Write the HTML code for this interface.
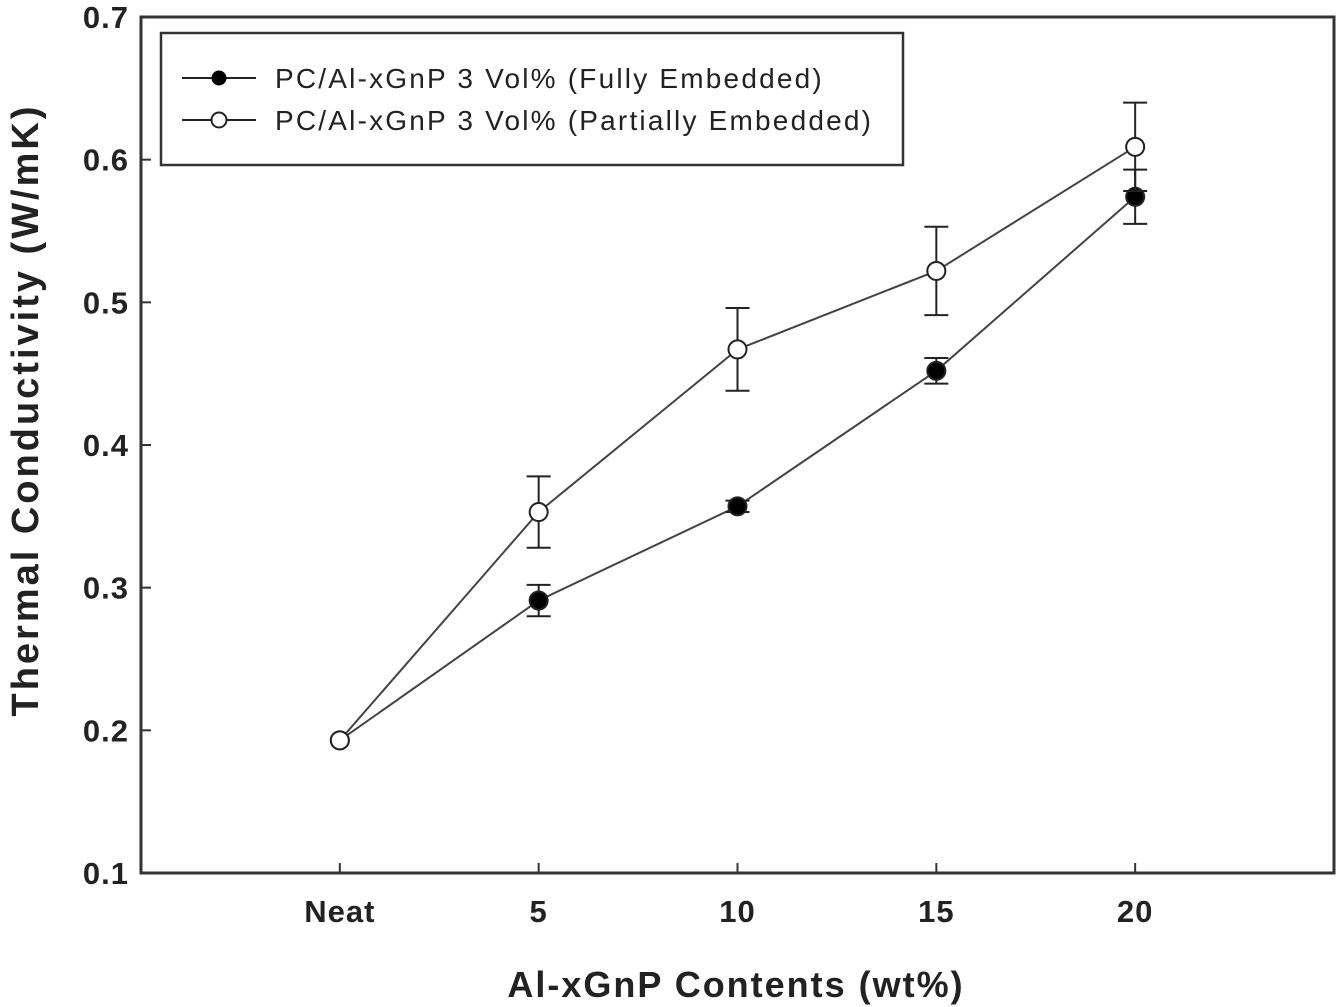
<!DOCTYPE html>
<html><head><meta charset="utf-8"><style>
body{margin:0;background:#fff;}
svg{display:block;font-family:"Liberation Sans",Arial,sans-serif;}
</style></head><body>
<svg id="chart" width="1339" height="1007" viewBox="0 0 1339 1007">
<g id="axes"></g><g id="series"></g>
<rect x="161" y="33" width="742" height="132" fill="#fff" stroke="#333" stroke-width="2.5"/>
<g>
<line x1="182" y1="78" x2="256" y2="78" stroke="#222" stroke-width="2"/><circle cx="219" cy="78" r="7.5" fill="#000"/>
<text x="275" y="88" font-size="28" letter-spacing="2.2" fill="#222">PC/Al-xGnP 3 Vol% (Fully Embedded)</text></g>
<g>
<line x1="182" y1="120" x2="256" y2="120" stroke="#222" stroke-width="2"/><circle cx="219" cy="120" r="7.5" fill="#fff" stroke="#222" stroke-width="2"/>
<text x="275" y="130" font-size="28" letter-spacing="2.2" fill="#222">PC/Al-xGnP 3 Vol% (Partially Embedded)</text></g>
<text x="736" y="997" font-size="36" letter-spacing="2" font-weight="bold" text-anchor="middle" fill="#222">Al-xGnP Contents (wt%)</text>
<text transform="translate(38,410) rotate(-90)" font-size="38" letter-spacing="3" font-weight="bold" text-anchor="middle" fill="#222">Thermal Conductivity (W/mK)</text>
</svg>
<script>
const categories=["Neat","5","10","15","20"];
const fullyValues=[0.193,0.291,0.357,0.452,0.574];
const fullyErrors=[0,0.011,0.004,0.009,0.019];
const partialValues=[0.193,0.353,0.467,0.522,0.609];
const partialErrors=[0,0.025,0.029,0.031,0.031];
const yTicks=[0.1,0.2,0.3,0.4,0.5,0.6,0.7];
const L=141,R=1334,T=17,B=873;
const xS=i=>L+(i+1)*(R-L)/6;
const yS=v=>B-(v-0.1)/0.6*(B-T);
const NS="http://www.w3.org/2000/svg";
function mk(tag,attrs,parent){const e=document.createElementNS(NS,tag);for(const k in attrs)e.setAttribute(k,attrs[k]);parent.appendChild(e);return e;}
const ax=document.getElementById('axes'),sg=document.getElementById('series');
const frame=mk('rect',{x:L,y:T,width:R-L,height:B-T,fill:'none',stroke:'#333','stroke-width':3},ax);


yTicks.forEach(v=>{
 const t=mk('line',{x1:L,x2:L+10,y1:yS(v),y2:yS(v),stroke:'#333','stroke-width':2},ax);
 
 
 const l=mk('text',{x:L-12,y:yS(v)+11,'font-size':31,'letter-spacing':1,'font-weight':'bold','text-anchor':'end',fill:'#222'},ax);
 l.textContent=v.toFixed(1);
 
 
});
categories.forEach((c,i)=>{
 const t=mk('line',{x1:xS(i),x2:xS(i),y1:B,y2:B-10,stroke:'#333','stroke-width':2},ax);
 
 
 const l=mk('text',{x:xS(i),y:B+49,'font-size':31,'letter-spacing':1,'font-weight':'bold','text-anchor':'middle',fill:'#222'},ax);
 l.textContent=c;
 
 
});
function series(vals,errs,fill,name){
 const pts=vals.map((v,i)=>xS(i)+','+yS(v)).join(' ');
 const pl=mk('polyline',{points:pts,fill:'none',stroke:'#444','stroke-width':2},sg);
 
 
 vals.forEach((v,i)=>{
  if(errs[i]>0){
   const x=xS(i),y1=yS(v+errs[i]),y2=yS(v-errs[i]);
   const g=mk('g',{stroke:'#222','stroke-width':2},sg);
   
   
   mk('line',{x1:x,x2:x,y1:y1,y2:y2},g);
   mk('line',{x1:x-12,x2:x+12,y1:y1,y2:y1},g);
   mk('line',{x1:x-12,x2:x+12,y1:y2,y2:y2},g);
  }
 });
 vals.forEach((v,i)=>{
  const c=mk('circle',{cx:xS(i),cy:yS(v),r:9,fill:fill,stroke:'#222','stroke-width':2},sg);
  
  
 });
}
series(fullyValues,fullyErrors,'#000','fully-embedded');
series(partialValues,partialErrors,'#fff','partially-embedded');
</script>
</body></html>
